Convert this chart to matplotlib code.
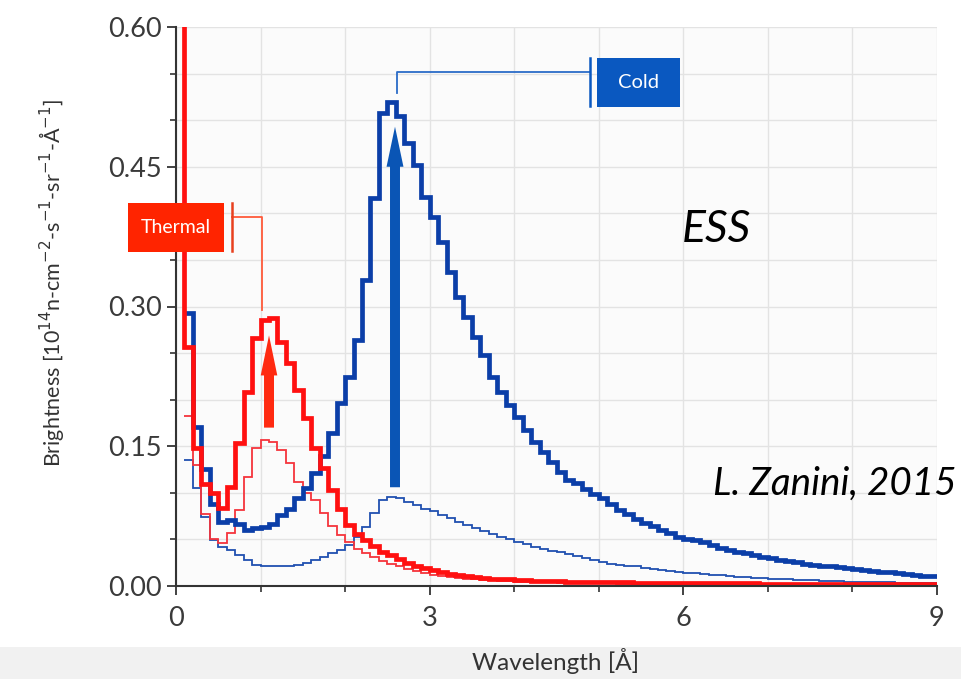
import numpy as np
import matplotlib
matplotlib.use("Agg")
import matplotlib.pyplot as plt
from matplotlib.patches import Rectangle, FancyArrow
from matplotlib.ticker import MultipleLocator, FormatStrFormatter

# ---------------- data (bin width 0.1 Å) ----------------
bin_width = 0.1

# thick red (thermal, ESS) : bins starting at 0.0 Å
thermal_ess = [0.8, 0.257, 0.148, 0.110, 0.100, 0.084, 0.106, 0.153, 0.208, 0.266,
               0.286, 0.288, 0.262, 0.239, 0.210, 0.180, 0.148, 0.127, 0.103, 0.083,
               0.065, 0.056, 0.049, 0.043, 0.037, 0.033, 0.029, 0.025, 0.022, 0.019,
               0.017, 0.015, 0.013, 0.012, 0.011, 0.010, 0.009, 0.008, 0.0075, 0.007,
               0.0065, 0.006, 0.0058, 0.0055, 0.0052, 0.005, 0.0048, 0.0046, 0.0045, 0.0043,
               0.0042, 0.004, 0.0039, 0.0038, 0.0037, 0.0036, 0.0035, 0.0034, 0.0033, 0.0032,
               0.0031, 0.0030, 0.0030, 0.0029, 0.0029, 0.0028, 0.0028, 0.0027, 0.0027, 0.0026,
               0.0026, 0.0025, 0.0025, 0.0024, 0.0024, 0.0023, 0.0023, 0.0023, 0.0022, 0.0022,
               0.0022, 0.0021, 0.0021, 0.0021, 0.0020, 0.0020, 0.0020, 0.0020, 0.0020, 0.0020]

# thick blue (cold, ESS) : bins starting at 0.1 Å
cold_ess = [0.293, 0.171, 0.126, 0.088, 0.069, 0.071, 0.067, 0.060, 0.062,
            0.063, 0.067, 0.076, 0.083, 0.094, 0.105, 0.121, 0.139, 0.164, 0.196,
            0.224, 0.264, 0.328, 0.416, 0.508, 0.519, 0.505, 0.475, 0.452, 0.418,
            0.396, 0.369, 0.337, 0.310, 0.289, 0.267, 0.248, 0.224, 0.208, 0.194,
            0.181, 0.167, 0.155, 0.144, 0.133, 0.122, 0.114, 0.111, 0.104, 0.099,
            0.094, 0.088, 0.082, 0.077, 0.072, 0.068, 0.064, 0.060, 0.057, 0.053,
            0.050, 0.049, 0.047, 0.044, 0.041, 0.039, 0.037, 0.035, 0.033, 0.031,
            0.030, 0.028, 0.027, 0.026, 0.024, 0.023, 0.022, 0.021, 0.020, 0.019,
            0.018, 0.017, 0.016, 0.015, 0.015, 0.014, 0.013, 0.012, 0.011, 0.011]

# thin red (thermal, reference) : bins starting at 0.1 Å
thermal_ref = [0.183, 0.130, 0.077, 0.050, 0.046, 0.057, 0.082, 0.117, 0.148,
               0.157, 0.155, 0.146, 0.132, 0.112, 0.100, 0.092, 0.078, 0.064, 0.055,
               0.047, 0.040, 0.035, 0.031, 0.027, 0.024, 0.021, 0.018, 0.016, 0.014,
               0.012, 0.011, 0.010, 0.009, 0.008, 0.007, 0.0065, 0.006, 0.0055, 0.005,
               0.0047, 0.0044, 0.0042, 0.004, 0.0038, 0.0036, 0.0034, 0.0032, 0.003, 0.0029,
               0.0028, 0.0027, 0.0026, 0.0025, 0.0024, 0.0023, 0.0022, 0.0022, 0.0021, 0.0020,
               0.0020, 0.0019, 0.0019, 0.0018, 0.0018, 0.0017, 0.0017, 0.0016, 0.0016, 0.0016,
               0.0015, 0.0015, 0.0015, 0.0014, 0.0014, 0.0014, 0.0014, 0.0013, 0.0013, 0.0013,
               0.0013, 0.0013, 0.0012, 0.0012, 0.0012, 0.0012, 0.0012, 0.0012, 0.0012, 0.0012]

# thin blue (cold, reference) : bins starting at 0.1 Å
cold_ref = [0.135, 0.105, 0.074, 0.049, 0.042, 0.039, 0.033, 0.028, 0.023,
            0.021, 0.021, 0.021, 0.022, 0.023, 0.025, 0.028, 0.031, 0.035, 0.039,
            0.044, 0.053, 0.063, 0.078, 0.092, 0.096, 0.094, 0.090, 0.087, 0.083,
            0.080, 0.076, 0.073, 0.069, 0.065, 0.062, 0.059, 0.056, 0.053, 0.050,
            0.047, 0.045, 0.042, 0.040, 0.038, 0.036, 0.034, 0.032, 0.030, 0.028,
            0.026, 0.024, 0.023, 0.022, 0.021, 0.019, 0.018, 0.017, 0.016, 0.015,
            0.014, 0.0135, 0.013, 0.012, 0.0115, 0.011, 0.010, 0.0095, 0.009, 0.0085,
            0.008, 0.0075, 0.007, 0.0067, 0.0064, 0.006, 0.0057, 0.0054, 0.0051, 0.0048,
            0.0046, 0.0044, 0.0042, 0.004, 0.0038, 0.0036, 0.0035, 0.0034, 0.0033, 0.0032]

x_ticks = [0, 3, 6, 9]
y_ticks = [0.00, 0.15, 0.30, 0.45, 0.60]

# ---------------- figure ----------------
W, H = 962, 679
fig = plt.figure(figsize=(W / 100, H / 100), dpi=100, facecolor="white")
ax = fig.add_axes([176 / W, 1 - 586 / H, (937 - 176) / W, (586 - 27) / H])
ax.set_facecolor("#fbfbfb")

# bottom light-grey band
fig.add_artist(Rectangle((0, 0), 1, 1 - 647 / H, transform=fig.transFigure,
                         facecolor="#f1f1f1", edgecolor="none", zorder=-10))

RED = "#ff1010"
RED_THIN = "#f5343c"
BLUE = "#0b3ea8"
BLUE_THIN = "#2050b0"

edges_red = np.round(np.arange(len(thermal_ess) + 1) * bin_width, 3)
edges_rest = np.round(0.1 + np.arange(len(cold_ess) + 1) * bin_width, 3)

ax.stairs(cold_ref, edges_rest, baseline=None, color=BLUE_THIN, lw=1.3, zorder=3)
ax.stairs(thermal_ref, edges_rest, baseline=None, color=RED_THIN, lw=1.3, zorder=3)
ax.stairs(cold_ess, edges_rest, baseline=None, color=BLUE, lw=3.4, zorder=4)
ax.stairs(thermal_ess, edges_red, baseline=None, color=RED, lw=3.4, zorder=5)

# arrows
ax.add_patch(FancyArrow(1.10, 0.170, 0, 0.099, width=0.118, head_width=0.196,
                        head_length=0.043, length_includes_head=True,
                        color="#ff2a10", lw=0, zorder=6))
ax.add_patch(FancyArrow(2.59, 0.106, 0, 0.387, width=0.118, head_width=0.20,
                        head_length=0.043, length_includes_head=True,
                        color="#0a55b5", lw=0, zorder=6))

# axes styling
ax.set_xlim(0, 9)
ax.set_ylim(0, 0.60)
ax.set_xticks(x_ticks)
ax.set_yticks(y_ticks)
ax.xaxis.set_minor_locator(MultipleLocator(1))
ax.yaxis.set_minor_locator(MultipleLocator(0.05))
ax.yaxis.set_major_formatter(FormatStrFormatter("%.2f"))
ax.grid(which="both", color="#e3e3e3", lw=1.0, zorder=0)
ax.set_axisbelow(True)
for s in ["top", "right"]:
    ax.spines[s].set_visible(False)
for s in ["left", "bottom"]:
    ax.spines[s].set_color("#333333")
    ax.spines[s].set_linewidth(1.5)
    ax.spines[s].set_zorder(7)
ax.tick_params(which="major", length=6.5, width=1.3, color="#333333",
               labelsize=19.5, labelcolor="#3a3a3a", pad=4)
ax.tick_params(which="minor", length=4.3, width=1.2, color="#333333")
for lab in ax.get_xticklabels() + ax.get_yticklabels():
    lab.set_family("Lato")
ax.tick_params(axis="x", pad=8)

# labels
fig.text(556 / W, 1 - 661 / H, "Wavelength [Å]", ha="center", va="center",
         fontsize=17.5, family="Lato", color="#333333")
fig.text(52 / W, 1 - 283 / H,
         r"Brightness [10$^{14}$n-cm$^{-2}$-s$^{-1}$-sr$^{-1}$-Å$^{-1}$]",
         rotation=90, ha="center", va="center", fontsize=15.5, family="Lato",
         color="#333333")

# Thermal label
def px2d(xp, yp):
    return ((xp - 176) / 84.56, (586 - yp) / 931.7)

x0, y0 = px2d(128, 252)
x1, y1 = px2d(224, 203)
ax.add_patch(Rectangle((x0, y0), x1 - x0, y1 - y0, facecolor="#ff2400",
                       edgecolor="none", clip_on=False, zorder=9))
ax.text((x0 + x1) / 2, (y0 + y1) / 2, "Thermal", ha="center", va="center",
        color="white", fontsize=14, family="Lato", zorder=10, clip_on=False)
bx, by0 = px2d(232, 251)
_, by1 = px2d(232, 203)
ax.plot([bx, bx], [by0, by1], color="#e8401e", lw=1.8, zorder=9, clip_on=False)
ax.plot([bx, 1.02, 1.02], [0.396, 0.396, 0.296], color="#ff5a3a", lw=1.3, zorder=8,
        clip_on=False)

# Cold label
x0, y0 = px2d(597, 107)
x1, y1 = px2d(680, 58)
ax.add_patch(Rectangle((x0, y0), x1 - x0, y1 - y0, facecolor="#0a58c0",
                       edgecolor="none", clip_on=False, zorder=9))
ax.text((x0 + x1) / 2, (y0 + y1) / 2, "Cold", ha="center", va="center",
        color="white", fontsize=14.5, family="Lato", zorder=10, clip_on=False)
bx, by0 = px2d(590, 106)
_, by1 = px2d(590, 58)
ax.plot([bx, bx], [by0, by1], color="#0a58c0", lw=1.8, zorder=9, clip_on=False)
ax.plot([2.61, 2.61, bx], [0.529, 0.552, 0.552], color="#2a6bc8", lw=1.3, zorder=8,
        clip_on=False)

# annotations
fig.text(682 / W, 1 - 242 / H, "ESS", ha="left", va="baseline", fontsize=32,
         family="Lato", style="italic", color="black")
fig.text(713 / W, 1 - 495 / H, "L. Zanini, 2015", ha="left", va="baseline",
         fontsize=27.8, family="Lato", style="italic", color="black")

fig.savefig("out.png", dpi=100, facecolor="white")
